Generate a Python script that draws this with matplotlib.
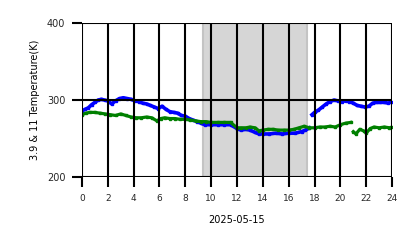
# 3.9 & 11 micron brightness temperature over one day

import matplotlib
matplotlib.use('Agg')
import matplotlib.pyplot as plt
import numpy as np

plt.rcParams['font.size'] = 7
plt.rcParams['text.color'] = '#262626'
plt.rcParams['xtick.color'] = 'k'
plt.rcParams['ytick.color'] = 'k'
plt.rcParams['xtick.labelcolor'] = '#262626'
plt.rcParams['ytick.labelcolor'] = '#262626'

# hours of day (UTC) and temperatures [K]
t_b1 = [0.0, 0.25, 0.5, 0.75, 1.0, 1.25, 1.5, 1.75, 2.0, 2.3, 2.6, 2.9, 3.2, 3.5,
        3.8, 4.1, 4.4, 4.7, 5.0, 5.3, 5.6, 5.9, 6.2, 6.5, 6.8, 7.1, 7.4, 7.7,
        8.0, 8.3, 8.6, 8.9, 9.2, 9.5, 10.0, 10.5, 11.0, 11.5, 12.0, 12.3,
        12.7, 13.0, 13.4, 13.7, 14.0, 14.5, 15.0, 15.5, 16.0, 16.5, 17.0,
        17.3, 17.6]
tb_b1 = [286, 288, 290, 294, 297, 300, 301, 300, 299, 295, 299, 302, 303, 302,
         301, 299, 298, 296, 295, 293, 291, 289, 292, 288, 285, 284, 283, 280,
         279, 276, 274, 272, 270, 268, 268, 268, 268, 268, 263, 261, 262, 261,
         258, 256, 256, 256, 257, 256, 257, 257, 259, 261, 264]

t_b2 = [17.8, 18.0, 18.3, 18.6, 18.9, 19.2, 19.5, 19.8, 20.1, 20.4, 20.7, 21.0,
        21.3, 21.6, 21.9, 22.2, 22.5, 22.8, 23.1, 23.4, 23.7, 24.0]
tb_b2 = [281, 284, 287, 291, 295, 298, 300, 299, 298, 299, 298, 296, 293,
         292, 291, 292, 296, 297, 297, 297, 296, 298]

t_g1 = [0.0, 0.3, 0.6, 1.0, 1.4, 1.8, 2.2, 2.6, 3.0, 3.4, 3.8, 4.2, 4.6, 5.0,
        5.4, 5.8, 6.1, 6.4, 6.8, 7.2, 7.6, 8.0, 8.4, 8.8, 9.2, 9.6, 10.0, 10.5,
        11.0, 11.5, 12.0, 12.3, 12.7, 13.0, 13.4, 13.7, 14.0, 14.4, 14.8, 15.2,
        15.6, 16.0, 16.4, 16.8, 17.2, 17.6, 18.0, 18.4, 18.8, 19.2, 19.6, 20.0,
        20.4, 20.8]
tb_g1 = [281, 283, 284, 284, 283, 282, 281, 280, 282, 280, 278, 277, 277, 278,
         277, 273, 276, 277, 276, 276, 275, 275, 274, 273, 272, 272, 271, 271,
         271, 271, 264, 264, 264, 265, 264, 260, 261, 262, 262, 261, 261, 261,
         262, 264, 266, 264, 264, 265, 265, 266, 265, 268, 270, 271]

t_g2 = [21.0, 21.2, 21.5, 21.8, 22.0, 22.3, 22.6, 23.0, 23.4, 23.8, 24.0]
tb_g2 = [259, 256, 262, 260, 257, 263, 265, 264, 265, 264, 265]

# shaded period
shade_start = 9.35
shade_end = 17.45

fig = plt.figure(figsize=(4.18, 2.48), dpi=100)
ax = fig.add_axes([0.196, 0.286, 0.742, 0.621])

ax.axvspan(shade_start, shade_end, facecolor='#d6d6d6', edgecolor='#c4c4c4', lw=1.5, zorder=0)

for t, v in [(t_b1, tb_b1), (t_b2, tb_b2)]:
    ax.plot(t, v, color='#0000ff', lw=2.6, marker='s', ms=2, zorder=2)
for t, v in [(t_g1, tb_g1), (t_g2, tb_g2)]:
    ax.plot(t, v, color='#008000', lw=2.3, marker='s', ms=2, zorder=2.1)

ax.set_xlim(0, 24)
ax.set_ylim(200, 400)
ax.set_xticks(np.arange(0, 25, 2))
ax.set_yticks([200, 300, 400])

ax.grid(color='k', linestyle='-', linewidth=1.5)
ax.set_axisbelow(False)
for sp in ax.spines.values():
    sp.set_visible(False)
ax.tick_params(length=7, width=1.5, labelsize=7, pad=5)
ax.tick_params(axis='x', labelsize=6.5)

ax.set_xlabel("2025-05-15", fontsize=7, labelpad=9)
ax.set_ylabel("3.9 & 11 Temperature(K)", fontsize=7, labelpad=5)

plt.savefig('out.png', dpi=100)
